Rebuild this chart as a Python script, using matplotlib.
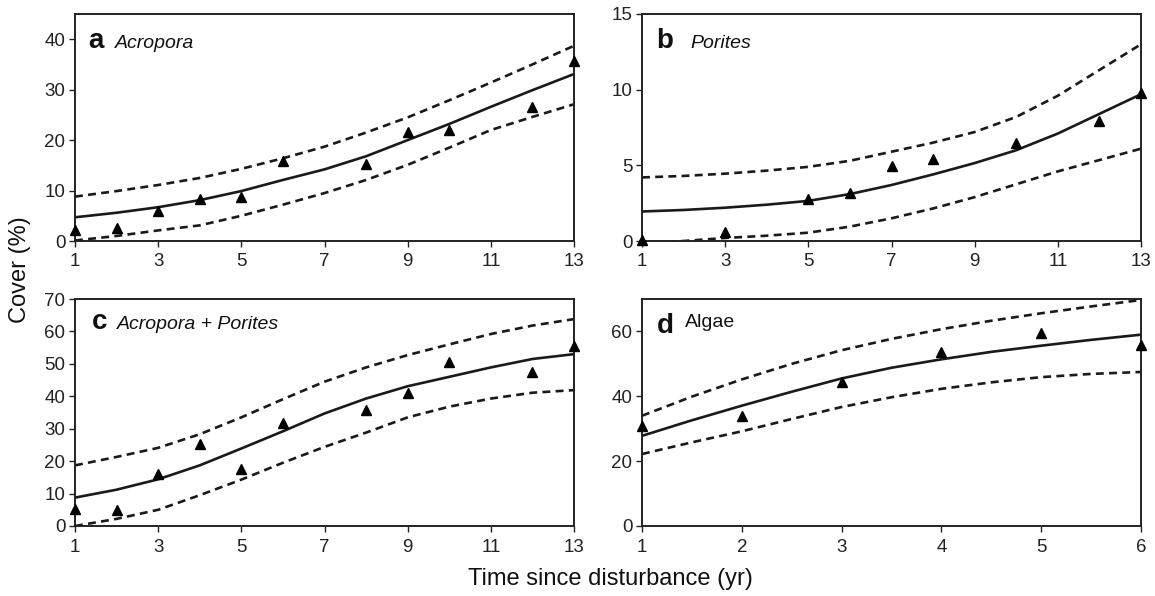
import matplotlib
matplotlib.use("Agg")
import matplotlib.pyplot as plt

plt.rcParams['font.family'] = ['Liberation Sans', 'DejaVu Sans']

# ---------------- data ----------------
years13 = [1, 2, 3, 4, 5, 6, 7, 8, 9, 10, 11, 12, 13]

# a Acropora
a_obs_x = [1, 2, 3, 4, 5, 6, 8, 9, 10, 12, 13]
a_obs_y = [2.2, 2.5, 6.0, 8.3, 8.7, 15.9, 15.3, 21.7, 22.1, 26.6, 35.7]
a_fit = [4.7, 5.6, 6.7, 8.1, 9.9, 12.1, 14.2, 16.8, 20.0, 23.2, 26.6, 29.9, 33.1]
a_up = [8.8, 9.9, 11.1, 12.5, 14.3, 16.4, 18.7, 21.5, 24.5, 27.9, 31.4, 35.0, 38.7]
a_lo = [0.1, 1.0, 2.1, 3.1, 5.0, 7.2, 9.5, 12.1, 15.1, 18.5, 22.0, 24.6, 27.1]

# b Porites
b_obs_x = [1, 3, 5, 6, 7, 8, 10, 12, 13]
b_obs_y = [0.05, 0.6, 2.75, 3.2, 4.95, 5.4, 6.5, 7.9, 9.8]
b_fit = [1.95, 2.05, 2.2, 2.4, 2.65, 3.1, 3.7, 4.4, 5.15, 6.0, 7.1, 8.4, 9.7]
b_up = [4.2, 4.3, 4.45, 4.65, 4.9, 5.3, 5.9, 6.5, 7.2, 8.2, 9.6, 11.3, 13.0]
b_lo = [-0.15, 0.0, 0.2, 0.35, 0.55, 0.95, 1.5, 2.15, 2.9, 3.75, 4.6, 5.35, 6.1]

# c Acropora + Porites
c_obs_x = [1, 2, 3, 4, 5, 6, 8, 9, 10, 12, 13]
c_obs_y = [5.35, 4.8, 16.0, 25.2, 17.5, 31.8, 35.7, 40.9, 50.5, 47.6, 55.5]
c_fit = [8.75, 11.2, 14.4, 18.7, 23.9, 29.2, 34.7, 39.3, 43.1, 46.0, 48.9, 51.5, 53.0]
c_up = [18.7, 21.3, 24.1, 28.3, 33.5, 39.1, 44.5, 48.9, 52.7, 56.0, 59.2, 61.8, 63.8]
c_lo = [0.0, 2.2, 5.0, 9.5, 14.3, 19.5, 24.4, 28.8, 33.5, 36.8, 39.3, 41.1, 41.9]

# d Algae
d_obs_x = [1, 2, 3, 4, 5, 6]
d_obs_y = [30.9, 33.8, 44.4, 53.8, 59.4, 55.8]
years6 = [1, 1.5, 2, 2.5, 3, 3.5, 4, 4.5, 5, 5.5, 6]
d_fit = [27.8, 32.6, 37.1, 41.4, 45.5, 48.8, 51.4, 53.7, 55.6, 57.4, 59.0]
d_up = [34.0, 39.9, 45.2, 50.0, 54.2, 57.7, 60.7, 63.3, 65.6, 67.7, 69.7]
d_lo = [22.2, 25.8, 29.2, 33.0, 36.7, 39.7, 42.3, 44.3, 45.9, 46.9, 47.5]

x_ticks13 = [1, 3, 5, 7, 9, 11, 13]
x_ticks6 = [1, 2, 3, 4, 5, 6]

# ---------------- figure ----------------
W, H = 1155, 596
fig = plt.figure(figsize=(W / 100, H / 100), dpi=100)

def rect(l, r, t, b):
    return [l / W, 1 - b / H, (r - l) / W, (b - t) / H]

axA = fig.add_axes(rect(75, 574, 14, 241))
axB = fig.add_axes(rect(642, 1141, 14, 241))
axC = fig.add_axes(rect(75, 574, 299, 526))
axD = fig.add_axes(rect(642, 1141, 299, 526))

panels = [
    (axA, years13, a_fit, a_up, a_lo, a_obs_x, a_obs_y, (1, 13), (0, 45), x_ticks13, [0, 10, 20, 30, 40]),
    (axB, years13, b_fit, b_up, b_lo, b_obs_x, b_obs_y, (1, 13), (0, 15), x_ticks13, [0, 5, 10, 15]),
    (axC, years13, c_fit, c_up, c_lo, c_obs_x, c_obs_y, (1, 13), (0, 70), x_ticks13, [0, 10, 20, 30, 40, 50, 60, 70]),
    (axD, years6, d_fit, d_up, d_lo, d_obs_x, d_obs_y, (1, 6), (0, 70), x_ticks6, [0, 20, 40, 60]),
]

col = '#1a1a1a'
for ax, xs, fit, up, lo, ox, oy, xl, yl, xt, yt in panels:
    ax.plot(xs, fit, color=col, lw=1.9, solid_capstyle='butt')
    ax.plot(xs, up, color=col, lw=1.9, dashes=(3.0, 2.0))
    ax.plot(xs, lo, color=col, lw=1.9, dashes=(3.0, 2.0))
    ax.plot(ox, oy, linestyle='none', marker='^', color='black', markersize=7, clip_on=False, zorder=5)
    ax.set_xlim(*xl)
    ax.set_ylim(*yl)
    ax.set_xticks(xt)
    ax.set_yticks(yt)
    ax.tick_params(direction='out', length=4, width=1.0, labelsize=13.5, colors='#222222')
    ax.tick_params(axis='x', pad=5)
    ax.tick_params(axis='y', pad=3)
    for s in ax.spines.values():
        s.set_linewidth(1.4)
        s.set_color('#222222')

def label(ax, letter, name, lx, nx, y, ny, italic=True):
    ax.text(lx, y, letter, transform=ax.transAxes, fontsize=20, fontweight='bold', va='baseline', ha='left', color='#111111')
    ax.text(nx, ny, name, transform=ax.transAxes, fontsize=14,
            style='italic' if italic else 'normal', va='baseline', ha='left', color='#111111')

label(axA, 'a', 'Acropora', 0.026, 0.080, 0.852, 0.852)
label(axB, 'b', 'Porites', 0.029, 0.097, 0.851, 0.851)
label(axC, 'c', 'Acropora + Porites', 0.033, 0.084, 0.87, 0.87)
label(axD, 'd', 'Algae', 0.03, 0.086, 0.85, 0.875, italic=False)

fig.text(20 / W, 1 - 270 / H, 'Cover (%)', rotation=90, ha='center', va='center', fontsize=17, color='#111111')
fig.text(610 / W, 1 - 579 / H, 'Time since disturbance (yr)', ha='center', va='center', fontsize=17, color='#111111')

fig.savefig('out.png', dpi=100)
